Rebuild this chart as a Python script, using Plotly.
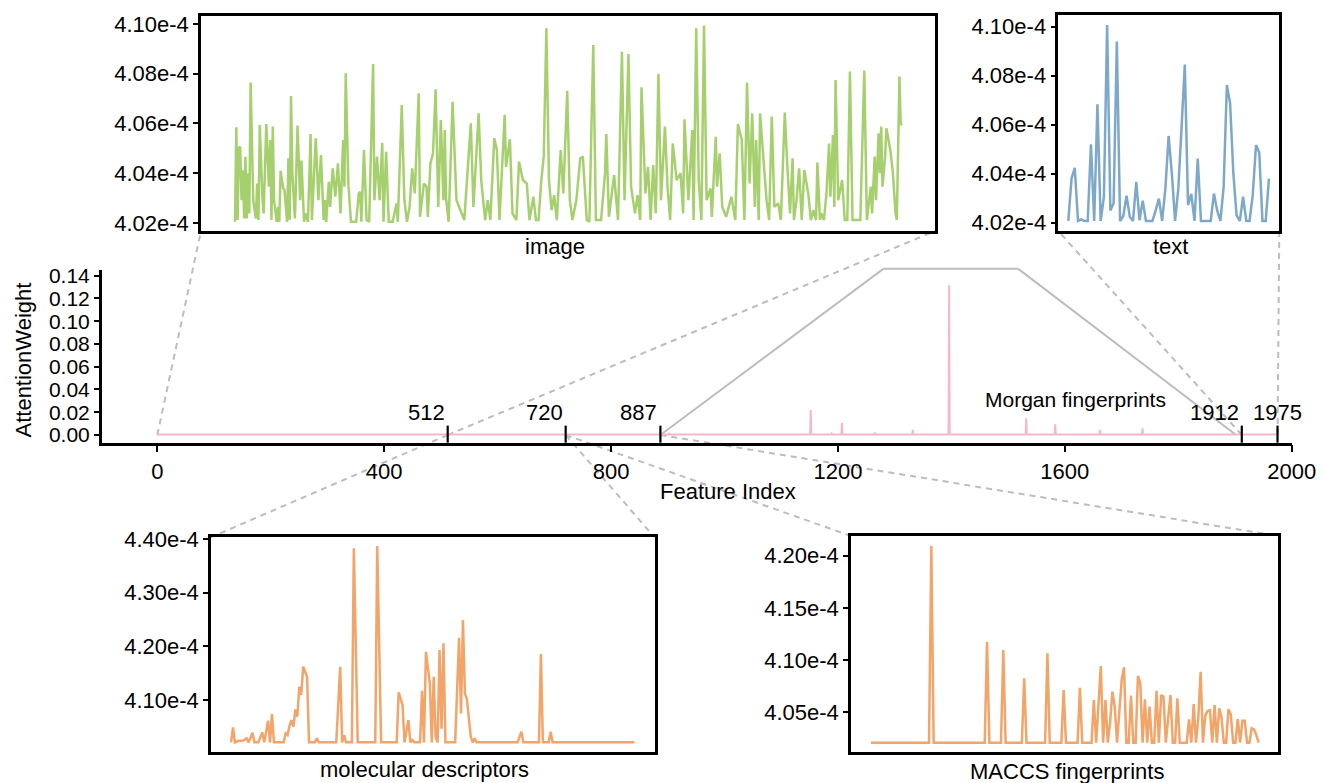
import plotly.graph_objects as go

W, H = 1325, 783
FONT = "Liberation Sans, Arial, Helvetica, sans-serif"

# ---------------- data (inset values in units of 1e-4) ----------------
segment_bounds = [512, 720, 887, 1912, 1975]
main_xticks = [0, 400, 800, 1200, 1600, 2000]
main_yticks = [0.00, 0.02, 0.04, 0.06, 0.08, 0.10, 0.12, 0.14]

img_idx = [0, 1, 2, 3, 4, 5, 6, 7, 8, 9, 10, 11, 12, 14, 16, 17, 18, 19, 21, 22, 24, 26, 27, 28, 29, 30,
           32, 33, 34, 35, 37, 38, 40, 41, 42, 43, 44, 46, 48, 50, 51, 53, 54, 56, 58, 59, 62, 64, 66, 68,
           69, 70, 72, 73, 75, 77, 79, 81, 83, 84, 85, 87, 89, 93, 95, 96, 97, 99, 101, 103, 106, 107,
           109, 111, 113, 114, 116, 118, 121, 124, 125, 128, 130, 132, 134, 136, 138, 141, 142, 145, 147,
           148, 150, 152, 154, 156, 158, 160, 161, 162, 164, 167, 170, 176, 181, 183, 187, 189, 192, 194,
           196, 199, 201, 203, 207, 208, 211, 213, 216, 218, 221, 224, 226, 229, 231, 233, 235, 237, 239,
           241, 243, 245, 247, 250, 252, 255, 257, 259, 262, 265, 267, 270, 272, 275, 277, 281, 284, 285,
           287, 291, 294, 297, 299, 302, 304, 307, 309, 311, 312, 315, 317, 319, 321, 323, 325, 327, 330,
           332, 334, 336, 339, 342, 344, 345, 348, 351, 352, 354, 356, 358, 360, 362, 365, 366, 369, 370,
           372, 374, 377, 381, 384, 386, 389, 391, 393, 395, 397, 399, 400, 402, 403, 405, 408, 410, 412,
           414, 417, 419, 422, 424, 426, 428, 429, 431, 433, 435, 437, 440, 442, 444, 446, 447, 449, 450,
           452, 454, 456, 457, 459, 460, 461, 463, 466, 468, 470, 472, 474, 480, 483, 485, 488, 489, 491,
           492, 494, 495, 496, 497, 499, 500, 502, 503, 505, 507, 508, 510, 511, 512]
img_val = [4.0204, 4.0584, 4.0211, 4.0506, 4.0502, 4.0291, 4.0412, 4.0217, 4.0466, 4.0217, 4.0399, 4.0238,
           4.0764, 4.0291, 4.0217, 4.0358, 4.0211, 4.0593, 4.0305, 4.0238, 4.0597, 4.0345, 4.0533, 4.0211,
           4.0587, 4.0291, 4.0204, 4.0264, 4.0204, 4.0409, 4.0338, 4.0332, 4.0204, 4.0459, 4.0211, 4.0710,
           4.0399, 4.0217, 4.0591, 4.0291, 4.0450, 4.0204, 4.0238, 4.0204, 4.0557, 4.0211, 4.0540, 4.0291,
           4.0472, 4.0211, 4.0291, 4.0204, 4.0365, 4.0264, 4.0419, 4.0305, 4.0439, 4.0238, 4.0533, 4.0345,
           4.0801, 4.0358, 4.0204, 4.0204, 4.0318, 4.0325, 4.0204, 4.0493, 4.0211, 4.0204, 4.0839, 4.0291,
           4.0466, 4.0291, 4.0522, 4.0204, 4.0486, 4.0204, 4.0204, 4.0278, 4.0204, 4.0674, 4.0291, 4.0204,
           4.0264, 4.0419, 4.0318, 4.0721, 4.0224, 4.0358, 4.0345, 4.0224, 4.0439, 4.0479, 4.0737, 4.0264,
           4.0613, 4.0291, 4.0573, 4.0298, 4.0204, 4.0687, 4.0291, 4.0211, 4.0600, 4.0264, 4.0640, 4.0372,
           4.0211, 4.0291, 4.0211, 4.0540, 4.0493, 4.0211, 4.0634, 4.0425, 4.0536, 4.0238, 4.0211, 4.0446,
           4.0372, 4.0358, 4.0211, 4.0305, 4.0211, 4.0211, 4.0365, 4.0468, 4.0982, 4.0372, 4.0251, 4.0311,
           4.0211, 4.0493, 4.0318, 4.0731, 4.0291, 4.0211, 4.0291, 4.0459, 4.0466, 4.0211, 4.0204, 4.0915,
           4.0211, 4.0211, 4.0399, 4.0557, 4.0224, 4.0392, 4.0211, 4.0888, 4.0291, 4.0879, 4.0345, 4.0238,
           4.0311, 4.0211, 4.0745, 4.0318, 4.0425, 4.0211, 4.0432, 4.0238, 4.0799, 4.0291, 4.0587, 4.0345,
           4.0211, 4.0519, 4.0372, 4.0399, 4.0238, 4.0616, 4.0291, 4.0573, 4.0211, 4.0982, 4.0365, 4.0211,
           4.0993, 4.0291, 4.0338, 4.0224, 4.0546, 4.0345, 4.0479, 4.0264, 4.0224, 4.0305, 4.0211, 4.0597,
           4.0533, 4.0211, 4.0764, 4.0358, 4.0640, 4.0264, 4.0533, 4.0211, 4.0640, 4.0493, 4.0291, 4.0211,
           4.0627, 4.0264, 4.0278, 4.0211, 4.0643, 4.0425, 4.0238, 4.0459, 4.0211, 4.0291, 4.0419, 4.0211,
           4.0412, 4.0318, 4.0211, 4.0251, 4.0211, 4.0442, 4.0211, 4.0238, 4.0211, 4.0318, 4.0519, 4.0305,
           4.0553, 4.0264, 4.0774, 4.0291, 4.0372, 4.0211, 4.0211, 4.0808, 4.0211, 4.0211, 4.0812, 4.0211,
           4.0345, 4.0238, 4.0466, 4.0291, 4.0560, 4.0399, 4.0587, 4.0345, 4.0466, 4.0580, 4.0519, 4.0493,
           4.0399, 4.0238, 4.0211, 4.0788, 4.0593, 4.0600]

mol_idx = [512, 513, 514, 516, 518, 520, 521, 523, 524, 526, 528, 529, 531, 532, 533, 534, 539, 540, 541,
           542, 543, 544, 545, 546, 547, 548, 549, 551, 552, 555, 556, 557, 566, 568, 569, 570, 571, 574,
           575, 577, 586, 587, 589, 597, 598, 600, 601, 603, 604, 605, 606, 609, 610, 611, 612, 614, 615,
           616, 617, 618, 619, 620, 621, 622, 627, 629, 630, 631, 632, 633, 635, 636, 637, 638, 659, 661,
           662, 670, 671, 672, 675, 676, 677, 719]
mol_val = [4.0211, 4.0491, 4.0211, 4.0242, 4.0242, 4.0286, 4.0211, 4.0391, 4.0211, 4.0211, 4.0398, 4.0211,
           4.0615, 4.0211, 4.0739, 4.0211, 4.0211, 4.0379, 4.0348, 4.0522, 4.0627, 4.0503, 4.0826, 4.0689,
           4.1248, 4.1093, 4.1621, 4.1435, 4.0211, 4.0211, 4.0286, 4.0211, 4.0211, 4.1621, 4.0211, 4.0348,
           4.0211, 4.0211, 4.3826, 4.0211, 4.0211, 4.3869, 4.0211, 4.0211, 4.1143, 4.0907, 4.0211, 4.0627,
           4.0211, 4.0255, 4.0211, 4.0211, 4.1174, 4.0211, 4.1901, 4.1311, 4.0211, 4.1435, 4.0317, 4.0211,
           4.1932, 4.0466, 4.2056, 4.0211, 4.0211, 4.2161, 4.0751, 4.2491, 4.1118, 4.1025, 4.0317, 4.0211,
           4.0286, 4.0211, 4.0211, 4.0410, 4.0211, 4.0211, 4.1857, 4.0211, 4.0211, 4.0410, 4.0211, 4.0211]

maccs_idx = [720, 745, 746, 747, 769, 770, 771, 776, 777, 778, 785, 786, 787, 795, 796, 797, 802, 803, 804,
             809, 810, 811, 815, 816, 817, 818, 819, 820, 821, 822, 823, 824, 825, 826, 828, 829, 830, 831,
             832, 833, 834, 835, 836, 837, 838, 839, 840, 841, 842, 843, 844, 845, 846, 847, 849, 850, 851,
             852, 853, 856, 857, 858, 859, 860, 861, 862, 863, 864, 865, 866, 867, 868, 869, 870, 871, 872,
             873, 874, 875, 876, 877, 878, 879, 880, 881, 882, 883, 884, 885, 886, 887]
maccs_val = [4.0209, 4.0209, 4.2093, 4.0209, 4.0209, 4.1176, 4.0209, 4.0209, 4.1097, 4.0209, 4.0209, 4.0825,
             4.0209, 4.0209, 4.1065, 4.0209, 4.0209, 4.0714, 4.0209, 4.0209, 4.0736, 4.0209, 4.0209, 4.0618,
             4.0209, 4.0554, 4.0943, 4.0209, 4.0618, 4.0209, 4.0400, 4.0698, 4.0554, 4.0209, 4.0810, 4.0931,
             4.0209, 4.0209, 4.0660, 4.0209, 4.0209, 4.0848, 4.0778, 4.0209, 4.0624, 4.0209, 4.0554, 4.0209,
             4.0209, 4.0707, 4.0209, 4.0666, 4.0650, 4.0209, 4.0666, 4.0209, 4.0209, 4.0634, 4.0209, 4.0209,
             4.0433, 4.0209, 4.0580, 4.0209, 4.0450, 4.0889, 4.0209, 4.0468, 4.0513, 4.0520, 4.0209, 4.0570,
             4.0209, 4.0538, 4.0450, 4.0209, 4.0209, 4.0530, 4.0480, 4.0209, 4.0209, 4.0436, 4.0209, 4.0420,
             4.0420, 4.0209, 4.0209, 4.0347, 4.0337, 4.0280, 4.0209]

# Morgan fingerprint block (main panel, absolute attention weights)
morgan_base = 0.0004
morgan_spike_idx = [902, 1152, 1189, 1207, 1265, 1332, 1396, 1532, 1583, 1662, 1737]
morgan_spike_val = [0.0012, 0.0220, 0.0012, 0.0108, 0.0022, 0.0044, 0.1317, 0.0147, 0.0094, 0.0044, 0.0059]

text_val = [4.0207, 4.0380, 4.0424, 4.0207, 4.0213, 4.0207, 4.0207, 4.0520, 4.0207, 4.0683, 4.0207, 4.0306,
            4.1007, 4.0250, 4.0279, 4.0940, 4.0207, 4.0227, 4.0310, 4.0224, 4.0207, 4.0367, 4.0210, 4.0290,
            4.0207, 4.0207, 4.0207, 4.0250, 4.0298, 4.0207, 4.0340, 4.0554, 4.0400, 4.0207, 4.0340, 4.0590,
            4.0846, 4.0272, 4.0318, 4.0207, 4.0462, 4.0207, 4.0207, 4.0207, 4.0207, 4.0319, 4.0250, 4.0207,
            4.0347, 4.0762, 4.0687, 4.0401, 4.0230, 4.0207, 4.0306, 4.0207, 4.0207, 4.0313, 4.0517, 4.0486,
            4.0207, 4.0207, 4.0380]
text_idx = [1912 + i for i in range(len(text_val))]

# ---------------- colours ----------------
GREEN = "#A6D06E"
BLUE = "#7DA8C8"
ORANGE = "#F2A469"
PINK = "#F5B6D0"
GREY = "#BDBDBD"


def px(x):
    return x / W


def py(y):
    return 1 - y / H


# ---------------- layout geometry ----------------
MX_DOM = [px(101.7), px(1291.7)]
MY_DOM = [py(442.7), py(270)]
MX_RNG = [-98, 2000]
MY_RNG = [-0.0068, 0.145]

IMG_DOM = ([px(201), px(935)], [py(231), py(15.7)])
TXT_DOM = ([px(1058.3), px(1279.3)], [py(231), py(15)])
MOL_DOM = ([px(211), px(654.5)], [py(752.3), py(537.3)])
MAC_DOM = ([px(851), px(1278.4)], [py(752.3), py(536)])


def mx(v):
    return MX_DOM[0] + (v - MX_RNG[0]) / (MX_RNG[1] - MX_RNG[0]) * (MX_DOM[1] - MX_DOM[0])


def my(v):
    return MY_DOM[0] + (v - MY_RNG[0]) / (MY_RNG[1] - MY_RNG[0]) * (MY_DOM[1] - MY_DOM[0])


# ---------------- main series ----------------
morgan_x, morgan_y = [887], [morgan_base]
for i, v in zip(morgan_spike_idx, morgan_spike_val):
    morgan_x += [i - 1, i, i + 1]
    morgan_y += [morgan_base, v, morgan_base]
morgan_x.append(1911)
morgan_y.append(morgan_base)

main_x = img_idx + mol_idx + maccs_idx + morgan_x + text_idx
main_y = ([v * 1e-4 for v in img_val] + [v * 1e-4 for v in mol_val] + [v * 1e-4 for v in maccs_val]
          + morgan_y + [v * 1e-4 for v in text_val])

fig = go.Figure()
fig.add_trace(go.Scatter(x=main_x, y=main_y, mode="lines", line=dict(color=PINK, width=2),
                         xaxis="x", yaxis="y", hoverinfo="skip"))
fig.add_trace(go.Scatter(x=img_idx, y=img_val, mode="lines", line=dict(color=GREEN, width=2.5),
                         xaxis="x2", yaxis="y2"))
fig.add_trace(go.Scatter(x=text_idx, y=text_val, mode="lines", line=dict(color=BLUE, width=2.5),
                         xaxis="x3", yaxis="y3"))
fig.add_trace(go.Scatter(x=mol_idx, y=mol_val, mode="lines", line=dict(color=ORANGE, width=2.5),
                         xaxis="x4", yaxis="y4"))
fig.add_trace(go.Scatter(x=maccs_idx, y=maccs_val, mode="lines", line=dict(color=ORANGE, width=2.5),
                         xaxis="x5", yaxis="y5"))

tickfont_main_x = dict(family=FONT, size=22, color="black")
tickfont_main_y = dict(family=FONT, size=21, color="black")
tickfont_inset = dict(family=FONT, size=22, color="black")


def inset_x(dom, rng, anchor):
    return dict(domain=dom, range=rng, showline=True, mirror=True, linewidth=2.5, linecolor="black",
                showticklabels=False, ticks="", showgrid=False, zeroline=False, anchor=anchor,
                automargin=False)


def inset_y(dom, rng, tv, anchor):
    return dict(domain=dom, range=rng, showline=True, mirror=True, linewidth=2.5, linecolor="black",
                tickvals=tv, ticktext=["%.2fe-4" % t for t in tv], ticks="outside", ticklen=5,
                tickwidth=2, tickcolor="black", tickfont=tickfont_inset, showgrid=False,
                zeroline=False, anchor=anchor, automargin=False)


fig.update_layout(
    width=W, height=H, autosize=False,
    margin=dict(l=0, r=0, t=0, b=0, pad=0, autoexpand=False),
    paper_bgcolor="white", plot_bgcolor="rgba(0,0,0,0)", showlegend=False,
    font=dict(family=FONT, color="black"),
    xaxis=dict(domain=MX_DOM, range=MX_RNG, showline=True, linewidth=2.5, linecolor="black",
               tickvals=main_xticks, ticks="outside", ticklen=7, tickwidth=2, tickcolor="black",
               tickfont=tickfont_main_x, showgrid=False, zeroline=False, anchor="y", automargin=False),
    yaxis=dict(domain=MY_DOM, range=MY_RNG, showline=True, linewidth=2.5, linecolor="black",
               tickvals=main_yticks, tickformat=".2f", ticks="outside", ticklen=5, tickwidth=2,
               tickcolor="black", tickfont=tickfont_main_y, showgrid=False, zeroline=False, anchor="x",
               automargin=False),
    xaxis2=inset_x(IMG_DOM[0], [-26.1, 537.3], "y2"),
    yaxis2=inset_y(IMG_DOM[1], [4.0167, 4.1033], [4.02, 4.04, 4.06, 4.08, 4.10], "x2"),
    xaxis3=inset_x(TXT_DOM[0], [1912 - 3.09, 1912 + 65.2], "y3"),
    yaxis3=inset_y(TXT_DOM[1], [4.0166, 4.1048], [4.02, 4.04, 4.06, 4.08, 4.10], "x3"),
    xaxis4=inset_x(MOL_DOM[0], [501.7, 729.3], "y4"),
    yaxis4=inset_y(MOL_DOM[1], [4.0026, 4.4032], [4.10, 4.20, 4.30, 4.40], "x4"),
    xaxis5=inset_x(MAC_DOM[0], [711.4, 895.5], "y5"),
    yaxis5=inset_y(MAC_DOM[1], [4.0117, 4.2189], [4.05, 4.10, 4.15, 4.20], "x5"),
)

shapes = []
dash = dict(color=GREY, width=2, dash="6px,5px")
connectors = [
    (0, IMG_DOM[0][0], IMG_DOM[1][0]),
    (512, IMG_DOM[0][1], IMG_DOM[1][0]),
    (512, MOL_DOM[0][0], MOL_DOM[1][1]),
    (720, MOL_DOM[0][1], MOL_DOM[1][1]),
    (720, MAC_DOM[0][0], MAC_DOM[1][1]),
    (887, MAC_DOM[0][1], MAC_DOM[1][1]),
    (1912, TXT_DOM[0][0], TXT_DOM[1][0]),
    (1975, TXT_DOM[0][1], TXT_DOM[1][0]),
]
for v, xe, ye in connectors:
    shapes.append(dict(type="line", xref="paper", yref="paper", x0=mx(v), y0=my(0), x1=xe, y1=ye,
                       line=dash, layer="below"))

# Morgan zoom trapezoid
trap_top, trap_left, trap_right, trap_end = 0.146, 1280, 1518, 1902
pts = [(887, 0), (trap_left, trap_top), (trap_right, trap_top), (trap_end, 0)]
for (a, b), (c, d) in zip(pts[:-1], pts[1:]):
    shapes.append(dict(type="line", xref="paper", yref="paper", x0=mx(a), y0=my(b), x1=mx(c), y1=my(d),
                       line=dict(color=GREY, width=2), layer="below"))

# segment boundary ticks
for v in segment_bounds:
    shapes.append(dict(type="line", xref="paper", yref="paper", x0=mx(v), x1=mx(v),
                       y0=MY_DOM[0], y1=my(0.0082), line=dict(color="black", width=2.2)))
fig.update_layout(shapes=shapes)

ann = []
lab_font = dict(family=FONT, size=22, color="black")
for v in segment_bounds:
    anchor = "center" if v == 1975 else "right"
    ann.append(dict(x=mx(v), y=my(0.0072), xref="paper", yref="paper", text=str(v), showarrow=False,
                    xanchor=anchor, yanchor="bottom", font=lab_font, xshift=0 if v == 1975 else -1))

ann.append(dict(x=px(1075), y=py(399), xref="paper", yref="paper", text="Morgan fingerprints",
                showarrow=False, xanchor="center", yanchor="middle",
                font=dict(family=FONT, size=21, color="black")))
ann.append(dict(x=px(728), y=py(491), xref="paper", yref="paper", text="Feature Index",
                showarrow=False, xanchor="center", yanchor="middle", font=lab_font))
ann.append(dict(x=px(22.5), y=py(360), xref="paper", yref="paper", text="AttentionWeight",
                showarrow=False, xanchor="center", yanchor="middle", textangle=-90, font=lab_font))
for txt, cx, cy in [("image", 555, 247), ("text", 1170, 247),
                    ("molecular descriptors", 424, 769), ("MACCS fingerprints", 1067, 771)]:
    ann.append(dict(x=px(cx), y=py(cy), xref="paper", yref="paper", text=txt, showarrow=False,
                    xanchor="center", yanchor="middle", font=lab_font))
fig.update_layout(annotations=ann)

fig.write_html(
    "out.html",
    config={"displayModeBar": False},
    post_script=(
        "document.documentElement.style.margin='0';document.documentElement.style.padding='0';"
        "document.body.style.margin='0';document.body.style.padding='0';"
        "document.body.style.overflow='hidden';"
    ),
)
